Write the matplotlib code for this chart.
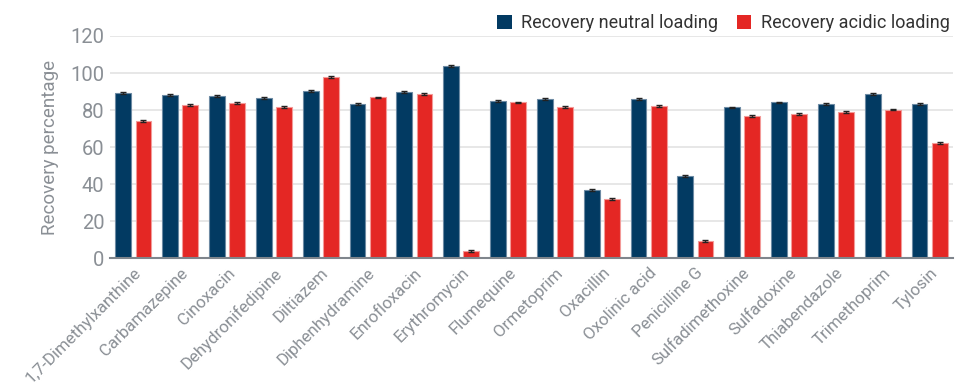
import matplotlib
matplotlib.use("Agg")
import matplotlib.pyplot as plt
import numpy as np

compounds = [
    "1,7-Dimethylxanthine", "Carbamazepine", "Cinoxacin", "Dehydronifedipine",
    "Diltiazem", "Diphenhydramine", "Enrofloxacin", "Erythromycin", "Flumequine",
    "Ormetoprim", "Oxacillin", "Oxolinic acid", "Penicilline G",
    "Sulfadimethoxine", "Sulfadoxine", "Thiabendazole", "Trimethoprim", "Tylosin",
]
recovery_neutral = [89.0, 88.1, 87.7, 86.5, 90.2, 83.4, 89.7, 103.8, 85.0,
                    85.9, 36.9, 85.9, 44.3, 81.4, 84.1, 83.2, 88.6, 83.2]
recovery_acidic = [74.3, 82.9, 83.6, 81.6, 97.8, 86.8, 88.6, 3.9, 84.1,
                   81.6, 32.2, 82.3, 9.5, 76.9, 78.0, 78.9, 80.3, 62.2]
err_neutral = [0.5] * len(compounds)
err_acidic = [0.5] * len(compounds)

yticks = [0, 20, 40, 60, 80, 100, 120]

plt.rcParams["font.family"] = ["Roboto", "DejaVu Sans"]

BLUE = "#023a62"
RED = "#e42724"
GREY = "#8a8f95"

fig = plt.figure(figsize=(9.69, 3.89), dpi=100)
ax = fig.add_axes([0.1135, 0.336, 0.870, 0.5715])

x = np.arange(len(compounds))
w = 0.34
off = 0.215
ax.bar(x - off, recovery_neutral, w, color=BLUE, edgecolor="#6d8aa3",
       linewidth=0.8, label="Recovery neutral loading", zorder=3)
ax.bar(x + off, recovery_acidic, w, color=RED, edgecolor="#f39a98",
       linewidth=0.8, label="Recovery acidic loading", zorder=3)
ax.errorbar(x - off, recovery_neutral, yerr=err_neutral, fmt="none",
            ecolor="#222222", elinewidth=1.0, capsize=2.5, capthick=1.0, zorder=4)
ax.errorbar(x + off, recovery_acidic, yerr=err_acidic, fmt="none",
            ecolor="#222222", elinewidth=1.0, capsize=2.5, capthick=1.0, zorder=4)

ax.set_xlim(-0.5, len(compounds) - 0.5)
ax.set_ylim(0, 120)
ax.set_yticks(yticks)
ax.set_yticklabels([str(t) for t in yticks], fontsize=14.5, color=GREY)
ax.set_xticks(x)
ax.set_xticklabels(compounds, rotation=45, ha="right", rotation_mode="anchor",
                   fontsize=12.2, color=GREY)
ax.tick_params(axis="both", length=0)
ax.tick_params(axis="x", pad=5)
ax.tick_params(axis="y", pad=4)
ax.set_ylabel("Recovery percentage", fontsize=13.5, color=GREY, labelpad=8)

ax.grid(axis="y", color="#e3e3e3", linewidth=1.2, zorder=0)
ax.set_axisbelow(True)
for side in ("top", "right", "left"):
    ax.spines[side].set_visible(False)
ax.spines["bottom"].set_color("#7f858c")
ax.spines["bottom"].set_linewidth(1.5)
ax.spines["bottom"].set_zorder(5)

leg = ax.legend(loc="lower right", bbox_to_anchor=(1.0, 1.0), ncol=2,
                frameon=False, fontsize=13.0, handlelength=0.78,
                handleheight=0.78, handletextpad=0.5, columnspacing=1.1,
                borderaxespad=0.0, borderpad=0.2)
for txt in leg.get_texts():
    txt.set_color("#333333")
for h in leg.legend_handles:
    h.set_linewidth(0)

fig.savefig("out.png", dpi=100)
